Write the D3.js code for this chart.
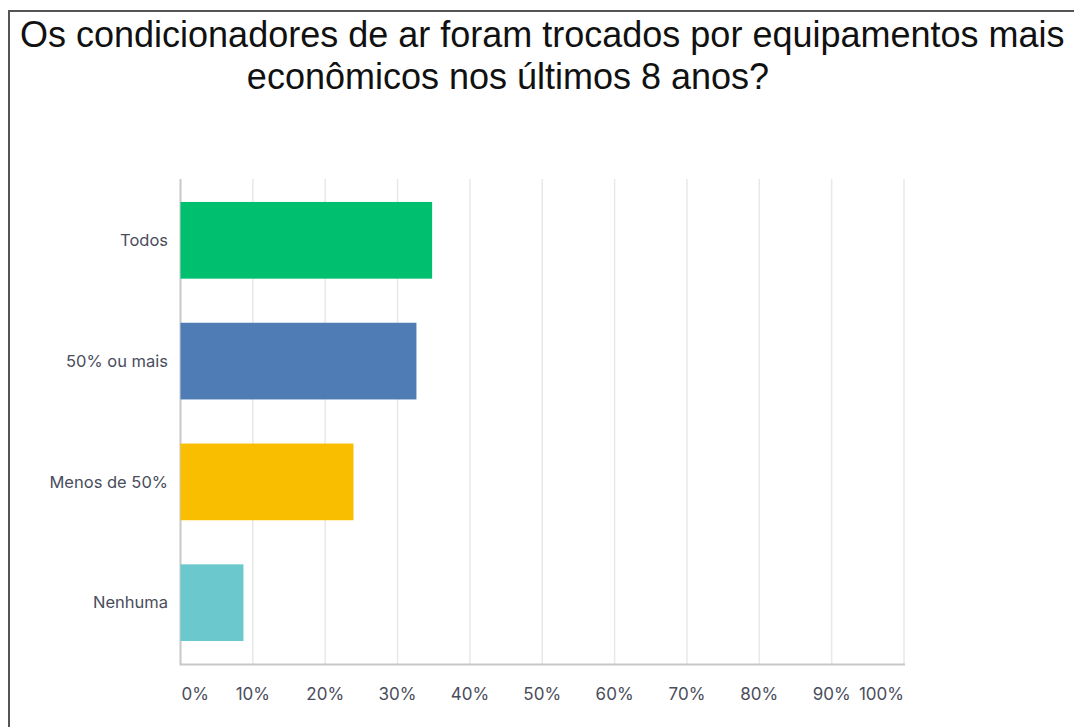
<!DOCTYPE html>
<html>
<head>
<meta charset="utf-8">
<script src="https://cdn.jsdelivr.net/npm/d3@7"></script>
<style>
  body { margin: 0; background: #fff; }
  svg { display: block; }
  .title { font-family: "Liberation Sans", Arial, sans-serif; font-size: 36px; fill: #111; }
  .cat { font-family: Inter, "Noto Sans", sans-serif; font-size: 16.5px; fill: #4a4d5c; }
  .tick-lbl { font-family: Inter, "Noto Sans", sans-serif; font-size: 17px; fill: #4a4d5c; }
</style>
</head>
<body>
<svg id="chart" width="1074" height="727"></svg>
<script>
// survey answers (share of respondents, %)
const categories = ['Todos', '50% ou mais', 'Menos de 50%', 'Nenhuma'];
const values = [34.78, 32.61, 23.91, 8.70];
const barColors = ['#00bf6f', '#507cb6', '#f9be00', '#6bc8cd'];
const tickValues = [0, 10, 20, 30, 40, 50, 60, 70, 80, 90, 100];
const titleLines = [
  'Os condicionadores de ar foram trocados por equipamentos mais',
  'econômicos nos últimos 8 anos?'
];

const svg = d3.select('#chart');

// frame (page border)
svg.append('path')
  .attr('d', 'M9 727 L9 11 L1074 11')
  .attr('fill', 'none')
  .attr('stroke', '#555')
  .attr('stroke-width', 2);

// title
svg.append('text').attr('class', 'title')
  .attr('x', 20).attr('y', 47)
  .text(titleLines[0]);
svg.append('text').attr('class', 'title')
  .attr('x', 508).attr('y', 89)
  .attr('text-anchor', 'middle')
  .text(titleLines[1]);

const x = d3.scaleLinear().domain([0, 100]).range([180.5, 904]);
const y = d3.scaleBand().domain(categories).range([179, 664])
  .paddingInner(0.365).paddingOuter(0.19);

// gridlines
svg.append('g').selectAll('line')
  .data(tickValues)
  .join('line')
  .attr('x1', d => x(d)).attr('x2', d => x(d))
  .attr('y1', 179).attr('y2', 664)
  .attr('stroke', d => d === 0 ? '#c8c8c8' : '#e8e8e8')
  .attr('stroke-width', d => d === 0 ? 2 : 1.5);

// baseline
svg.append('line')
  .attr('x1', x(0) - 1).attr('x2', x(100) + 1)
  .attr('y1', 664.5).attr('y2', 664.5)
  .attr('stroke', '#c8c8c8').attr('stroke-width', 2);

// bars
svg.append('g').selectAll('rect')
  .data(categories)
  .join('rect')
  .attr('x', x(0))
  .attr('y', d => y(d))
  .attr('width', (d, i) => x(values[i]) - x(0))
  .attr('height', y.bandwidth())
  .attr('fill', (d, i) => barColors[i]);

// category labels
svg.append('g').selectAll('text')
  .data(categories)
  .join('text')
  .attr('class', 'cat')
  .attr('x', 168)
  .attr('y', d => y(d) + y.bandwidth() / 2)
  .attr('dy', '0.35em')
  .attr('text-anchor', 'end')
  .text(d => d);

// x tick labels (first left-aligned, last right-aligned)
svg.append('g').selectAll('text')
  .data(tickValues)
  .join('text')
  .attr('class', 'tick-lbl')
  .attr('x', d => d === 0 ? x(0) + 1 : d === 100 ? x(100) : x(d))
  .attr('y', 694)
  .attr('dy', '0.35em')
  .attr('text-anchor', d => d === 0 ? 'start' : d === 100 ? 'end' : 'middle')
  .text(d => d + '%');
</script>
</body>
</html>
